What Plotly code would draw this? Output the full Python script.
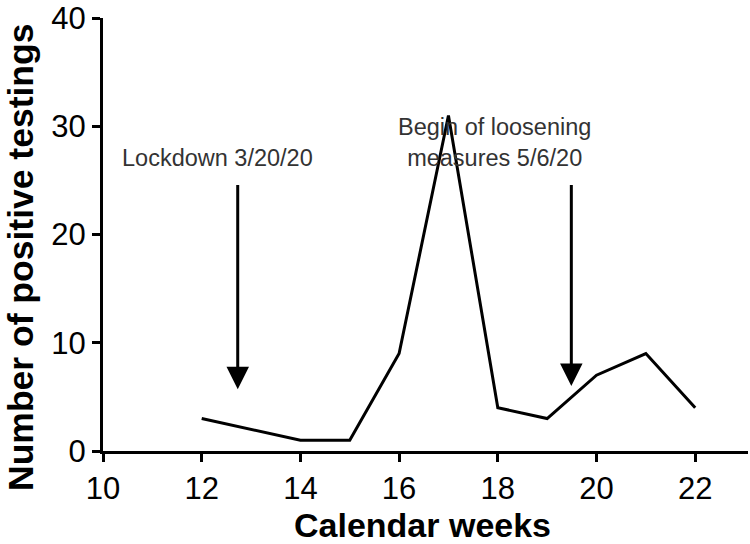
import plotly.graph_objects as go

weeks = [12, 13, 14, 15, 16, 17, 18, 19, 20, 21, 22]
positives = [3, 2, 1, 1, 9, 31, 4, 3, 7, 9, 4]

x_ticks = [10, 12, 14, 16, 18, 20, 22]
y_ticks = [0, 10, 20, 30, 40]

events = ["Lockdown 3/20/20", "Begin of loosening<br>measures 5/6/20"]
event_x = [12.73, 19.49]
arrow_top = [24.7, 24.7]
arrow_tip = [5.7, 6.0]
label_x = [12.31, 17.94]
label_y = [27.1, 28.5]

x_title = "Calendar weeks"
y_title = "Number of positive testings"

W, H = 750, 544
ML, MR, MT, MB = 103, 2, 18, 93
PW, PH = W - ML - MR, H - MT - MB


def px_to_paper(px, py):
    return (px - ML) / PW, (H - MB - py) / PH


fig = go.Figure()
fig.add_trace(go.Scatter(x=weeks, y=positives, mode="lines",
                         line=dict(color="black", width=3), showlegend=False))

for i in range(len(events)):
    fig.add_annotation(x=event_x[i], y=arrow_tip[i], ax=event_x[i], ay=arrow_top[i],
                       xref="x", yref="y", axref="x", ayref="y",
                       text="", showarrow=True, arrowhead=2, arrowsize=1.5,
                       arrowwidth=3, arrowcolor="black")
    fig.add_annotation(x=label_x[i], y=label_y[i], xref="x", yref="y",
                       text=events[i], showarrow=False,
                       font=dict(family="Liberation Sans, Arial", size=23.5, color="#333"))

xt = px_to_paper(422, 525)
fig.add_annotation(x=xt[0], y=xt[1], xref="paper", yref="paper",
                   xanchor="center", yanchor="middle", showarrow=False,
                   text="<b>" + x_title + "</b>",
                   font=dict(family="Liberation Sans, Arial", size=34, color="black"))
yt = px_to_paper(21, 258)
fig.add_annotation(x=yt[0], y=yt[1], xref="paper", yref="paper",
                   xanchor="center", yanchor="middle", showarrow=False, textangle=-90,
                   text="<b>" + y_title + "</b>",
                   font=dict(family="Liberation Sans, Arial", size=35.5, color="black"))

fig.update_layout(
    width=W, height=H,
    margin=dict(l=ML, r=MR, t=MT, b=MB),
    plot_bgcolor="white", paper_bgcolor="white",
    font=dict(family="Liberation Sans, Arial", color="black"),
)
fig.update_xaxes(range=[10, 23.07], tickvals=x_ticks, ticks="outside", ticklen=8,
                 tickwidth=3, tickcolor="black", showline=True, linewidth=3,
                 linecolor="black", showgrid=False, zeroline=False, automargin=False,
                 tickfont=dict(size=31, color="black"))
fig.update_yaxes(range=[0, 40], tickvals=y_ticks, ticks="outside", ticklen=8,
                 tickwidth=3, tickcolor="black", showline=True, linewidth=3,
                 linecolor="black", showgrid=False, zeroline=False, automargin=False,
                 tickfont=dict(size=31, color="black"))

fig.write_html("out.html", config={"displayModeBar": False},
               post_script="document.body.style.margin='0';")
